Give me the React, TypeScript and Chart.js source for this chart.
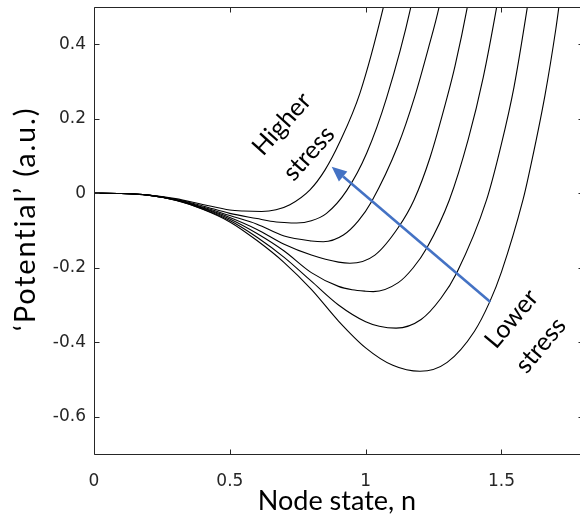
import React, { useEffect, useRef } from "react";
import { Chart, registerables } from "chart.js";

Chart.register(...registerables);

// Axis ticks
const xTicks = [0, 0.5, 1, 1.5];
const xTickLabels = ["0", "0.5", "1", "1.5"];
const yTicks = [-0.6, -0.4, -0.2, 0, 0.2, 0.4];
const yTickLabels = ["-0.6", "-0.4", "-0.2", "0", "0.2", "0.4"];

// Potential curves, from highest stress (1) to lowest stress (7)
const curve1N = [0, 0.1, 0.2, 0.3, 0.4, 0.5, 0.55, 0.617, 0.67, 0.721, 0.795, 0.85, 0.905, 0.979, 1.065, 1.095];
const curve1V = [0, -0.0007, -0.0047, -0.0145, -0.03, -0.045, -0.0478, -0.049, -0.0445, -0.031, 0.009, 0.062, 0.138, 0.269, 0.499, 0.6];

const curve2N = [0, 0.1, 0.2, 0.3, 0.4, 0.5, 0.6, 0.65, 0.7, 0.746, 0.8, 0.856, 0.93, 1.004, 1.077, 1.166, 1.195];
const curve2V = [0, -0.0007, -0.0048, -0.016, -0.034, -0.054, -0.068, -0.075, -0.0785, -0.08, -0.074, -0.054, 0.007, 0.108, 0.256, 0.499, 0.61];

const curve3N = [0, 0.1, 0.2, 0.3, 0.4, 0.5, 0.6, 0.7, 0.8, 0.844, 0.918, 0.973, 1.022, 1.12, 1.18, 1.23, 1.27, 1.3];
const curve3V = [0, -0.0007, -0.005, -0.017, -0.037, -0.06, -0.083, -0.115, -0.128, -0.13, -0.112, -0.074, -0.022, 0.13, 0.258, 0.387, 0.499, 0.61];

const curve4N = [0, 0.1, 0.2, 0.3, 0.4, 0.5, 0.6, 0.7, 0.8, 0.9, 0.942, 1.034, 1.12, 1.178, 1.237, 1.3, 1.329, 1.374, 1.4];
const curve4V = [0, -0.0007, -0.005, -0.0175, -0.039, -0.065, -0.097, -0.137, -0.166, -0.185, -0.188, -0.166, -0.092, -0.018, 0.096, 0.258, 0.342, 0.499, 0.61];

const curve5N = [0, 0.1, 0.2, 0.3, 0.4, 0.5, 0.6, 0.7, 0.8, 0.9, 0.95, 1.0, 1.028, 1.12, 1.175, 1.225, 1.308, 1.378, 1.433, 1.482, 1.51];
const curve5V = [0, -0.0007, -0.005, -0.018, -0.04, -0.069, -0.108, -0.155, -0.213, -0.25, -0.259, -0.263, -0.264, -0.24, -0.2, -0.147, -0.018, 0.146, 0.312, 0.499, 0.62];

const curve6N = [0, 0.1, 0.2, 0.3, 0.4, 0.5, 0.6, 0.7, 0.8, 0.9, 1.0, 1.05, 1.112, 1.204, 1.277, 1.335, 1.445, 1.498, 1.546, 1.595, 1.62];
const curve6V = [0, -0.0007, -0.0053, -0.0185, -0.042, -0.073, -0.118, -0.172, -0.236, -0.3, -0.345, -0.357, -0.362, -0.339, -0.282, -0.214, -0.018, 0.127, 0.285, 0.499, 0.62];

const curve7N = [0, 0.1, 0.2, 0.3, 0.4, 0.5, 0.6, 0.7, 0.8, 0.9, 1.0, 1.1, 1.2, 1.3, 1.4, 1.457, 1.5, 1.579, 1.6, 1.66, 1.7, 1.711, 1.735];
const curve7V = [0, -0.0007, -0.0055, -0.019, -0.043, -0.077, -0.127, -0.186, -0.258, -0.343, -0.415, -0.462, -0.478, -0.454, -0.371, -0.291, -0.211, -0.018, 0.048, 0.263, 0.441, 0.499, 0.63];

const curvesN = [curve1N, curve2N, curve3N, curve4N, curve5N, curve6N, curve7N];
const curvesV = [curve1V, curve2V, curve3V, curve4V, curve5V, curve6V, curve7V];

// Stress arrow: tail on the lowest-stress curve, head toward the highest
const arrowN = [1.459, 0.875];
const arrowV = [-0.292, 0.071];

// Curve annotations
const noteTexts = ["Higher", "stress", "Lower", "stress"];
const noteN = [0.691, 0.791, 1.537, 1.644];
const noteV = [0.186, 0.107, -0.337, -0.408];
const noteAngle = [-48, -48, -50, -50];

const xTitle = "Node state, n";
const yTitle = "\u2018Potential\u2019 (a.u.)";

const AXIS_COLOR = "#262626";
const LABEL_FONT = "Lato";

const overlay = {
  id: "overlay",
  afterDatasetsDraw(chart: any) {
    const { ctx, scales } = chart;
    const xs = scales.x;
    const ys = scales.y;

    // arrow
    const x0 = xs.getPixelForValue(arrowN[0]);
    const y0 = ys.getPixelForValue(arrowV[0]);
    const x1 = xs.getPixelForValue(arrowN[1]);
    const y1 = ys.getPixelForValue(arrowV[1]);
    const ang = Math.atan2(y1 - y0, x1 - x0);
    const headLen = 15;
    const headHalf = 6.5;
    const bx = x1 - headLen * Math.cos(ang);
    const by = y1 - headLen * Math.sin(ang);
    ctx.save();
    ctx.strokeStyle = "#4472C4";
    ctx.fillStyle = "#4472C4";
    ctx.lineWidth = 2.6;
    ctx.beginPath();
    ctx.moveTo(x0, y0);
    ctx.lineTo(bx, by);
    ctx.stroke();
    ctx.beginPath();
    ctx.moveTo(x1, y1);
    ctx.lineTo(bx + headHalf * Math.sin(ang), by - headHalf * Math.cos(ang));
    ctx.lineTo(bx - headHalf * Math.sin(ang), by + headHalf * Math.cos(ang));
    ctx.closePath();
    ctx.fill();

    // rotated notes
    ctx.fillStyle = "#000";
    ctx.font = `25px ${LABEL_FONT}`;
    ctx.textAlign = "center";
    ctx.textBaseline = "middle";
    noteTexts.forEach((t, i) => {
      ctx.save();
      ctx.translate(xs.getPixelForValue(noteN[i]), ys.getPixelForValue(noteV[i]));
      ctx.rotate((noteAngle[i] * Math.PI) / 180);
      ctx.fillText(t, 0, 0);
      ctx.restore();
    });
    ctx.restore();
  },
  afterDraw(chart: any) {
    const { ctx, chartArea: a, scales } = chart;
    const xs = scales.x;
    const ys = scales.y;
    const L = Math.round(a.left) + 0.5;
    const R = Math.round(a.right) + 0.5;
    const T = Math.round(a.top) + 0.5;
    const B = Math.round(a.bottom) + 0.5;
    const tick = 5;
    ctx.save();
    ctx.strokeStyle = AXIS_COLOR;
    ctx.lineWidth = 1;
    ctx.beginPath();
    ctx.rect(L, T, R - L, B - T);
    for (const v of xTicks) {
      const px = Math.round(xs.getPixelForValue(v)) + 0.5;
      ctx.moveTo(px, B);
      ctx.lineTo(px, B - tick);
      ctx.moveTo(px, T);
      ctx.lineTo(px, T + tick);
    }
    for (const v of yTicks) {
      const py = Math.round(ys.getPixelForValue(v)) + 0.5;
      ctx.moveTo(L, py);
      ctx.lineTo(L + tick, py);
      ctx.moveTo(R, py);
      ctx.lineTo(R - tick, py);
    }
    ctx.stroke();

    // axis titles
    ctx.fillStyle = "#000";
    ctx.textAlign = "center";
    ctx.textBaseline = "alphabetic";
    ctx.font = `27px ${LABEL_FONT}`;
    ctx.fillText(xTitle, 337, 510);
    ctx.save();
    ctx.translate(35, 219);
    ctx.rotate(-Math.PI / 2);
    ctx.font = `29px ${LABEL_FONT}`;
    (ctx as any).letterSpacing = "1.8px";
    ctx.fillText(yTitle, 0, 0);
    ctx.restore();
    ctx.restore();
  },
};

export default function App() {
  const canvasRef = useRef<HTMLCanvasElement | null>(null);

  useEffect(() => {
    const canvas = canvasRef.current;
    if (!canvas) return;
    const datasets = curvesN.map((ns, i) => ({
      data: ns.map((n, j) => ({ x: n, y: curvesV[i][j] })),
      borderColor: "#000",
      borderWidth: 1.1,
      pointRadius: 0,
      fill: false,
      cubicInterpolationMode: "monotone" as const,
    }));

    const chart = new Chart(canvas, {
      type: "line",
      data: { datasets },
      options: {
        animation: false,
        responsive: false,
        devicePixelRatio: 1,
        layout: { padding: { top: 7, right: 7, left: 0, bottom: 0 } },
        plugins: {
          legend: { display: false },
          tooltip: { enabled: false },
        },
        scales: {
          x: {
            type: "linear",
            min: 0,
            max: 1.8,
            grid: { display: false, drawTicks: false },
            border: { display: false },
            afterBuildTicks: (s: any) => {
              s.ticks = xTicks.map((v) => ({ value: v }));
            },
            afterFit: (s: any) => {
              s.height = 62;
              s.paddingLeft = 0;
              s.paddingRight = 0;
            },
            ticks: {
              color: AXIS_COLOR,
              font: { family: "DejaVu Sans", size: 17 },
              padding: 17,
              maxRotation: 0,
              callback: (v: any) => {
                const i = xTicks.indexOf(Number(v));
                return i >= 0 ? xTickLabels[i] : "";
              },
            },
          },
          y: {
            type: "linear",
            min: -0.7,
            max: 0.5,
            grid: { display: false, drawTicks: false },
            border: { display: false },
            afterBuildTicks: (s: any) => {
              s.ticks = yTicks.map((v) => ({ value: v }));
            },
            afterFit: (s: any) => {
              s.width = 94;
              s.paddingTop = 0;
              s.paddingBottom = 0;
            },
            ticks: {
              color: AXIS_COLOR,
              font: { family: "DejaVu Sans", size: 17 },
              padding: 8,
              callback: (v: any) => {
                const i = yTicks.findIndex((t) => Math.abs(t - Number(v)) < 1e-9);
                return i >= 0 ? yTickLabels[i] : "";
              },
            },
          },
        },
      },
      plugins: [overlay],
    } as any);

    return () => chart.destroy();
  }, []);

  return (
    <div
      style={{
        position: "absolute",
        left: 0,
        top: 0,
        width: 580,
        height: 516,
        overflow: "hidden",
        background: "#fff",
      }}
    >
      <canvas ref={canvasRef} width={590} height={516} style={{ display: "block" }} />
    </div>
  );
}
